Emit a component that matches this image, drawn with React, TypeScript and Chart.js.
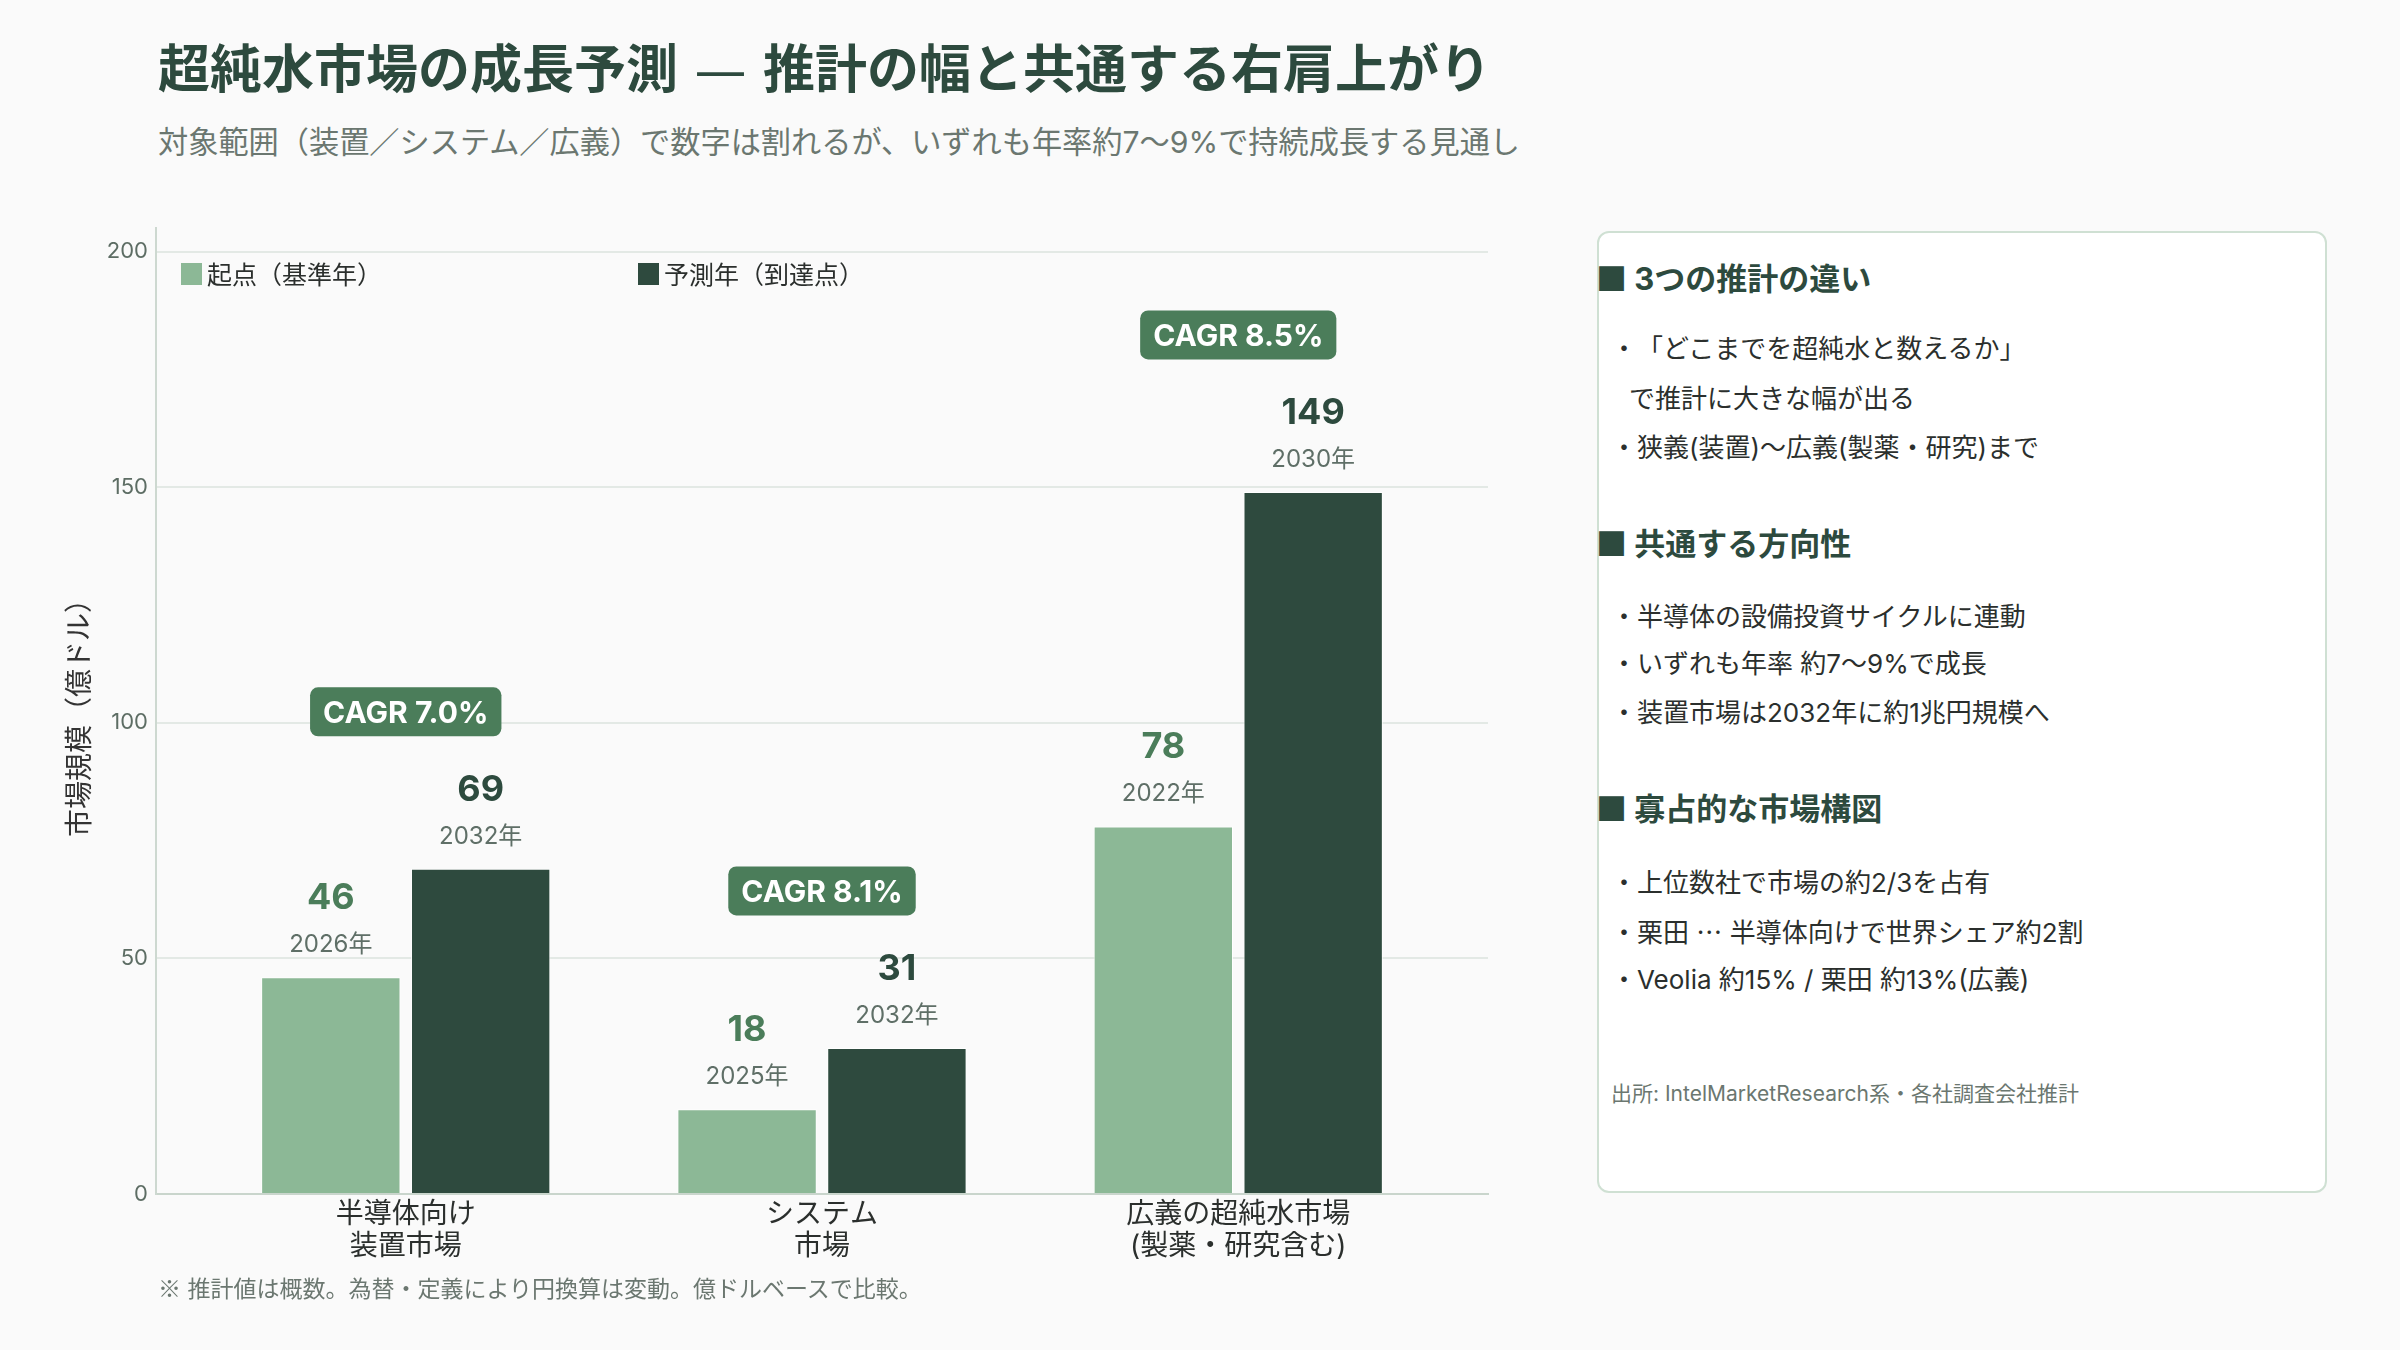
import React, { useEffect, useRef } from 'react';
import { Chart, registerables } from 'chart.js';

Chart.register(...registerables);

const FONT = '"Inter", "Noto Sans CJK JP", sans-serif';
const CJK = '"Noto Sans CJK JP", sans-serif';
const DASH_FONT = '"DejaVu Sans", sans-serif';

// ---- data ----
const categories: string[][] = [
  ['半導体向け', '装置市場'],
  ['システム', '市場'],
  ['広義の超純水市場', '(製薬・研究含む)'],
];
const seriesNames = ['起点（基準年）', '予測年（到達点）'];
const baseValues = [46, 18, 78];
const forecastValues = [69, 31, 149];
const baseYears = ['2026年', '2025年', '2022年'];
const forecastYears = ['2032年', '2032年', '2030年'];
const cagrLabels = ['CAGR 7.0%', 'CAGR 8.1%', 'CAGR 8.5%'];
const yTicks = [0, 50, 100, 150, 200];

const TITLE = '超純水市場の成長予測 — 推計の幅と共通する右肩上がり';
const SUBTITLE = '対象範囲（装置／システム／広義）で数字は割れるが、いずれも年率約7〜9%で持続成長する見通し';
const FOOTNOTE = '※ 推計値は概数。為替・定義により円換算は変動。億ドルベースで比較。';
const Y_TITLE = '市場規模（億ドル）';

const panelHeadings = ['■ 3つの推計の違い', '■ 共通する方向性', '■ 寡占的な市場構図'];
const panelLines1 = ['・「どこまでを超純水と数えるか」', 'で推計に大きな幅が出る', '・狭義(装置)〜広義(製薬・研究)まで'];
const panelLines2 = ['・半導体の設備投資サイクルに連動', '・いずれも年率 約7〜9%で成長', '・装置市場は2032年に約1兆円規模へ'];
const panelLines3 = ['・上位数社で市場の約2/3を占有', '・栗田 … 半導体向けで世界シェア約2割', '・Veolia 約15% / 栗田 約13%(広義)'];
const SOURCE = '出所: IntelMarketResearch系・各社調査会社推計';

const COLORS = {
  light: '#8cb896',
  dark: '#2e4a3e',
  badge: '#4b7d5a',
  lightValue: '#4b7d5a',
  darkValue: '#2d4a3e',
  title: '#2d4a3e',
  year: '#5f6f67',
  muted: '#6b7770',
  text: '#2b2f2d',
};

const annotPlugin = {
  id: 'annot',
  afterDatasetsDraw(chart: any) {
    const ctx = chart.ctx as CanvasRenderingContext2D;
    const xs = chart.scales.x;
    const area = chart.chartArea;
    const metas = [chart.getDatasetMeta(0), chart.getDatasetMeta(1)];
    ctx.save();
    ctx.textAlign = 'center';
    ctx.textBaseline = 'alphabetic';
    metas.forEach((meta: any, di: number) => {
      const years = di === 0 ? baseYears : forecastYears;
      const vals = di === 0 ? baseValues : forecastValues;
      meta.data.forEach((bar: any, i: number) => {
        ctx.font = `400 24px ${FONT}`;
        ctx.fillStyle = COLORS.year;
        ctx.fillText(years[i], bar.x, bar.y - 34 + 24 * 0.37);
        ctx.font = `700 36px ${FONT}`;
        ctx.fillStyle = di === 0 ? COLORS.lightValue : COLORS.darkValue;
        ctx.fillText(String(vals[i]), bar.x, bar.y - 81 + 36 * 0.36);
      });
    });
    // CAGR badges
    metas[1].data.forEach((bar: any, i: number) => {
      const cx = xs.getPixelForValue(i);
      const cy = bar.y - 157;
      ctx.font = `700 30px ${FONT}`;
      const w = ctx.measureText(cagrLabels[i]).width + 26;
      const h = 49;
      ctx.fillStyle = COLORS.badge;
      ctx.beginPath();
      (ctx as any).roundRect(cx - w / 2, cy - h / 2, w, h, 8);
      ctx.fill();
      ctx.fillStyle = '#ffffff';
      ctx.fillText(cagrLabels[i], cx, cy + 30 * 0.36);
    });
    // legend
    const legendColors = [COLORS.light, COLORS.dark];
    seriesNames.forEach((name, i) => {
      const bx = area.left + 25 + i * 457;
      const by = area.top + 35;
      ctx.fillStyle = legendColors[i];
      ctx.fillRect(bx, by, 21, 22);
      ctx.font = `400 25px ${FONT}`;
      ctx.fillStyle = COLORS.text;
      ctx.textAlign = 'left';
      ctx.fillText(name, bx + 26, by + 11 + 25 * 0.38);
    });
    ctx.restore();
  },
};

const CJK_CHARS = new Set(['※', '…', '■']);

function renderMixed(text: string) {
  const parts: React.ReactNode[] = [];
  let buf = '';
  let k = 0;
  const chars = Array.from(text);
  for (let i = 0; i < chars.length; i++) {
    const ch = chars[i];
    if (ch === '—') {
      if (buf) parts.push(buf);
      buf = '';
      parts.push(
        <span key={k++} style={{ fontFamily: DASH_FONT, fontWeight: 400 }}>
          {' — '}
        </span>
      );
      // skip surrounding spaces already consumed
      if (parts.length >= 2) {
        const prev = parts[parts.length - 2];
        if (typeof prev === 'string' && prev.endsWith(' ')) parts[parts.length - 2] = prev.slice(0, -1);
      }
      if (chars[i + 1] === ' ') i++;
    } else if (CJK_CHARS.has(ch)) {
      if (buf) parts.push(buf);
      buf = '';
      parts.push(
        <span key={k++} style={{ fontFamily: CJK }}>
          {ch}
        </span>
      );
    } else {
      buf += ch;
    }
  }
  if (buf) parts.push(buf);
  return parts;
}

function T(props: { x: number; cy: number; size: number; weight?: number; color: string; text: string }) {
  const { x, cy, size, weight = 400, color, text } = props;
  return (
    <div
      style={{
        position: 'absolute',
        left: x,
        top: cy - size / 2,
        fontSize: size,
        lineHeight: `${size}px`,
        fontWeight: weight,
        color,
        whiteSpace: 'pre',
        fontFamily: FONT,
        textSpacingTrim: 'space-all',
        fontKerning: 'normal',
      } as any}
    >
      {renderMixed(text)}
    </div>
  );
}

export default function App() {
  const ref = useRef<HTMLCanvasElement>(null);

  useEffect(() => {
    Chart.defaults.font.family = FONT;
    const chart = new Chart(ref.current as HTMLCanvasElement, {
      type: 'bar',
      data: {
        datasets: [
          {
            label: seriesNames[0],
            data: baseValues.map((v, i) => ({ x: i, y: v })),
            backgroundColor: COLORS.light,
            borderColor: 'rgba(255,255,255,0.85)',
            borderWidth: 1,
          },
          {
            label: seriesNames[1],
            data: forecastValues.map((v, i) => ({ x: i, y: v })),
            backgroundColor: COLORS.dark,
            borderColor: 'rgba(255,255,255,0.85)',
            borderWidth: 1,
          },
        ],
      },
      options: {
        responsive: false,
        animation: false,
        devicePixelRatio: 1,
        categoryPercentage: 0.72,
        barPercentage: 0.93,
        layout: { padding: { top: 228, right: 12, left: 0, bottom: 0 } },
        plugins: { legend: { display: false }, tooltip: { enabled: false } },
        scales: {
          x: {
            type: 'linear',
            min: -0.6,
            max: 2.6,
            offset: false,
            bounds: 'data',
            afterBuildTicks: (s: any) => {
              s.ticks = categories.map((_, i) => ({ value: i }));
            },
            afterFit: (s: any) => {
              s.height = 156;
            },
            grid: { display: false, drawTicks: false, offset: false },
            border: { display: true, color: '#c9d5cc', width: 2 },
            ticks: {
              padding: 4,
              maxRotation: 0,
              autoSkip: false,
              color: COLORS.text,
              font: { size: 28, lineHeight: 1.15 },
              callback: (v: any) => categories[Math.round(Number(v))] ?? '',
            },
          },
          y: {
            min: 0,
            max: 205,
            afterBuildTicks: (s: any) => {
              s.ticks = yTicks.map((v) => ({ value: v }));
            },
            afterFit: (s: any) => {
              s.width = 156;
            },
            grid: { color: '#e3e9e5', lineWidth: 2, drawTicks: false },
            border: { display: true, color: '#cdd8d0', width: 2 },
            ticks: { padding: 8, color: '#5d6d64', font: { size: 22 } },
            title: {
              display: true,
              text: Y_TITLE,
              color: '#333333',
              font: { size: 28 },
              padding: { top: 64, bottom: 0 },
            },
          },
        },
      } as any,
      plugins: [annotPlugin],
    });
    return () => chart.destroy();
  }, []);

  const bulletX = 1611;
  return (
    <div
      style={{
        position: 'absolute',
        left: 0,
        top: 0,
        width: 2400,
        height: 1350,
        background: '#fafafa',
        overflow: 'hidden',
        fontFamily: FONT,
      }}
    >
      <T x={158} cy={70} size={52} weight={700} color={COLORS.title} text={TITLE} />
      <T x={158} cy={142} size={30.2} color={COLORS.muted} text={SUBTITLE} />

      <canvas
        ref={ref}
        width={1500}
        height={1350}
        style={{ position: 'absolute', left: 0, top: 0, width: 1500, height: 1350 }}
      />

      <T x={158} cy={1287} size={23} color={COLORS.muted} text={FOOTNOTE} />

      <div
        style={{
          position: 'absolute',
          left: 1597,
          top: 231,
          width: 730,
          height: 962,
          boxSizing: 'border-box',
          background: '#ffffff',
          border: '2px solid #cfe0d3',
          borderRadius: 12,
        }}
      />
      <T x={1596} cy={276} size={31} weight={700} color={COLORS.title} text={panelHeadings[0]} />
      <T x={bulletX} cy={349} size={26} color={COLORS.text} text={panelLines1[0]} />
      <T x={1629} cy={399} size={26} color={COLORS.text} text={panelLines1[1]} />
      <T x={bulletX} cy={448} size={26} color={COLORS.text} text={panelLines1[2]} />

      <T x={1596} cy={541} size={31} weight={700} color={COLORS.title} text={panelHeadings[1]} />
      <T x={bulletX} cy={617} size={26} color={COLORS.text} text={panelLines2[0]} />
      <T x={bulletX} cy={664} size={26} color={COLORS.text} text={panelLines2[1]} />
      <T x={bulletX} cy={713} size={26} color={COLORS.text} text={panelLines2[2]} />

      <T x={1596} cy={806} size={31} weight={700} color={COLORS.title} text={panelHeadings[2]} />
      <T x={bulletX} cy={883} size={26} color={COLORS.text} text={panelLines3[0]} />
      <T x={bulletX} cy={931} size={26} color={COLORS.text} text={panelLines3[1]} />
      <T x={bulletX} cy={980} size={26} color={COLORS.text} text={panelLines3[2]} />

      <T x={1611} cy={1093} size={21} color={COLORS.muted} text={SOURCE} />
    </div>
  );
}
